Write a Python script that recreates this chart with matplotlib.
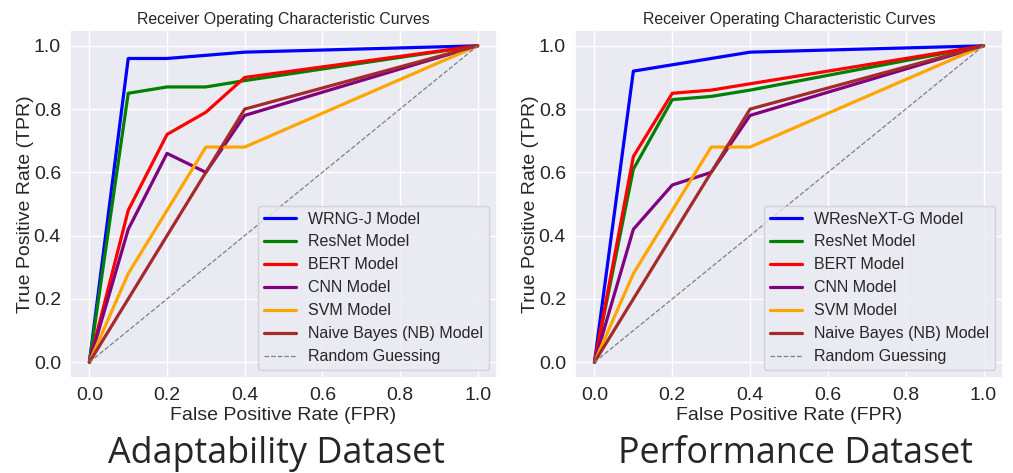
import matplotlib
matplotlib.use("Agg")
import matplotlib.pyplot as plt
import seaborn as sns

# False positive rate points shared by all curves
fpr = [0.0, 0.1, 0.2, 0.3, 0.4, 1.0]

# Adaptability dataset
adapt_names = ['WRNG-J Model', 'ResNet Model', 'BERT Model', 'CNN Model',
               'SVM Model', 'Naive Bayes (NB) Model']
adapt_wrng = [0.0, 0.96, 0.96, 0.97, 0.98, 1.0]
adapt_resnet = [0.0, 0.85, 0.87, 0.87, 0.89, 1.0]
adapt_bert = [0.0, 0.48, 0.72, 0.79, 0.90, 1.0]
adapt_cnn = [0.0, 0.42, 0.66, 0.60, 0.78, 1.0]
adapt_svm = [0.0, 0.28, 0.48, 0.68, 0.68, 1.0]
adapt_nb = [0.0, 0.20, 0.40, 0.60, 0.80, 1.0]

# Performance dataset
perf_names = ['WResNeXT-G Model', 'ResNet Model', 'BERT Model', 'CNN Model',
              'SVM Model', 'Naive Bayes (NB) Model']
perf_wres = [0.0, 0.92, 0.94, 0.96, 0.98, 1.0]
perf_resnet = [0.0, 0.61, 0.83, 0.84, 0.86, 1.0]
perf_bert = [0.0, 0.65, 0.85, 0.86, 0.88, 1.0]
perf_cnn = [0.0, 0.42, 0.56, 0.60, 0.78, 1.0]
perf_svm = [0.0, 0.28, 0.48, 0.68, 0.68, 1.0]
perf_nb = [0.0, 0.20, 0.40, 0.60, 0.80, 1.0]

colors = ['blue', 'green', 'red', 'purple', 'orange', 'brown']
captions = ['Adaptability Dataset', 'Performance Dataset']

sns.set_theme(style="darkgrid")
plt.rcParams['font.family'] = ['Liberation Sans', 'DejaVu Sans']

fig = plt.figure(figsize=(10.13, 4.73), dpi=100)
ax_left = fig.add_axes([70 / 1013, 1 - 378 / 473, 427 / 1013, 348 / 473])
ax_right = fig.add_axes([575 / 1013, 1 - 378 / 473, 428 / 1013, 348 / 473])

panels = [
    (ax_left, adapt_names, [adapt_wrng, adapt_resnet, adapt_bert, adapt_cnn, adapt_svm, adapt_nb]),
    (ax_right, perf_names, [perf_wres, perf_resnet, perf_bert, perf_cnn, perf_svm, perf_nb]),
]
# caption centres (figure fraction)
caption_x = [276 / 1013, 796 / 1013]

for (ax, names, curves), caption, cx in zip(panels, captions, caption_x):
    for name, tpr, c in zip(names, curves, colors):
        ax.plot(fpr, tpr, color=c, lw=2.3, label=name)
    ax.plot([0, 1], [0, 1], color='gray', lw=0.9, ls='--', label='Random Guessing')
    ax.set_xlim(-0.05, 1.05)
    ax.set_ylim(-0.05, 1.05)
    ax.set_xticks([0, 0.2, 0.4, 0.6, 0.8, 1.0])
    ax.set_yticks([0, 0.2, 0.4, 0.6, 0.8, 1.0])
    ax.tick_params(labelsize=14, pad=0.5)
    ax.set_xlabel('False Positive Rate (FPR)', fontsize=14, labelpad=2.5)
    ax.set_ylabel('True Positive Rate (TPR)', fontsize=14, labelpad=0)
    ax.set_title('Receiver Operating Characteristic Curves', fontsize=11.4, pad=4)
    ax.legend(loc='lower right', fontsize=11.5, handlelength=2.0, borderpad=0.35,
              labelspacing=0.5)
    fig.text(cx, 1 - 463 / 473, caption, ha='center', va='baseline',
             fontsize=25.8, family=['Open Sans', 'DejaVu Sans'])

fig.savefig('out.png', dpi=100)
